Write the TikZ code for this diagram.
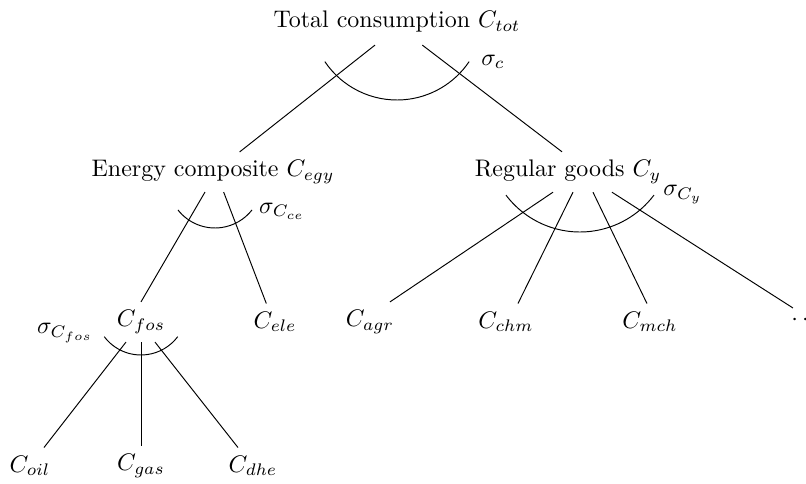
\documentclass[tikz,border=0pt]{standalone}
\usepackage{amsmath}
\usepackage{amssymb}
\usetikzlibrary{calc}

\begin{document}
\begin{tikzpicture}[scale=0.9775]

% Frame
\useasboundingbox (0,0) rectangle (12.09,7.26);

% Levels
\def\ya{6.93}
\def\yb{4.68}
\def\yc{2.43}
\def\yd{0.27}

% Top level
\node (tot) at (5.955,\ya) {Total consumption $C_{tot}$};

% Second level
\node (egy) at (3.195,\yb) {Energy composite $C_{egy}$};
\node (reg) at (8.52,\yb) {Regular goods $C_y$};

% Third level
\node (fos) at (2.115,\yc) {$C_{fos}$};
\node (ele) at (4.125,\yc) {$C_{ele}$};
\node (agr) at (5.55,\yc) {$C_{agr}$};
\node (chm) at (7.59,\yc) {$C_{chm}$};
\node (mch) at (9.75,\yc) {$C_{mch}$};
\node[anchor=west] (more) at (11.745,2.46) {$\cdots$};

% Fossil fuels
\node (oil) at (0.45,\yd) {$C_{oil}$};
\node (gas) at (2.115,\yd) {$C_{gas}$};
\node (dhe) at (3.795,\yd) {$C_{dhe}$};

% Branches
\draw ([xshift=-0.33cm,yshift=-0.06cm]tot.south) -- ([xshift=0.4cm]egy.north);
\draw ([xshift=0.38cm,yshift=-0.06cm]tot.south) -- ([xshift=-0.09cm]reg.north);

\draw ([xshift=-0.12cm]egy.south) -- (fos.north);
\draw ([xshift=0.16cm]egy.south) -- ([xshift=-0.13cm]ele.north);

\draw ([xshift=-0.225cm]reg.south) -- ([xshift=0.3cm]agr.north);
\draw ([xshift=0.075cm]reg.south) -- ([xshift=0.18cm]chm.north);
\draw ([xshift=0.375cm]reg.south) -- ([xshift=-0.045cm]mch.north);
\draw ([xshift=0.66cm]reg.south) -- ([xshift=0.15cm,yshift=0.18cm]more.west);

\draw ([xshift=-0.225cm]fos.south) -- ([xshift=0.21cm]oil.north);
\draw (fos.south) -- (gas.north);
\draw ([xshift=0.21cm]fos.south) -- ([xshift=-0.225cm]dhe.north);

% Elasticity arcs
\draw (tot.center) ++(0,0.135) ++(214:1.305) arc (214:326:1.305);
\draw (egy.center) ++(0.03,-0.135) ++(218:0.705) arc (218:322:0.705);
\draw (reg.center) ++(0.18,0.49) ++(217:1.39) arc (217:323:1.39);
\draw (fos.center) ++(0,0.195) ++(217:0.69) arc (217:323:0.69);

% Elasticities
\node at (7.395,6.33) {$\sigma_c$};
\node at (4.23,4.095) {$\sigma_{C_{ce}}$};
\node at (10.245,4.335) {$\sigma_{C_y}$};
\node at (0.975,2.265) {$\sigma_{C_{fos}}$};

\end{tikzpicture}
\end{document}
